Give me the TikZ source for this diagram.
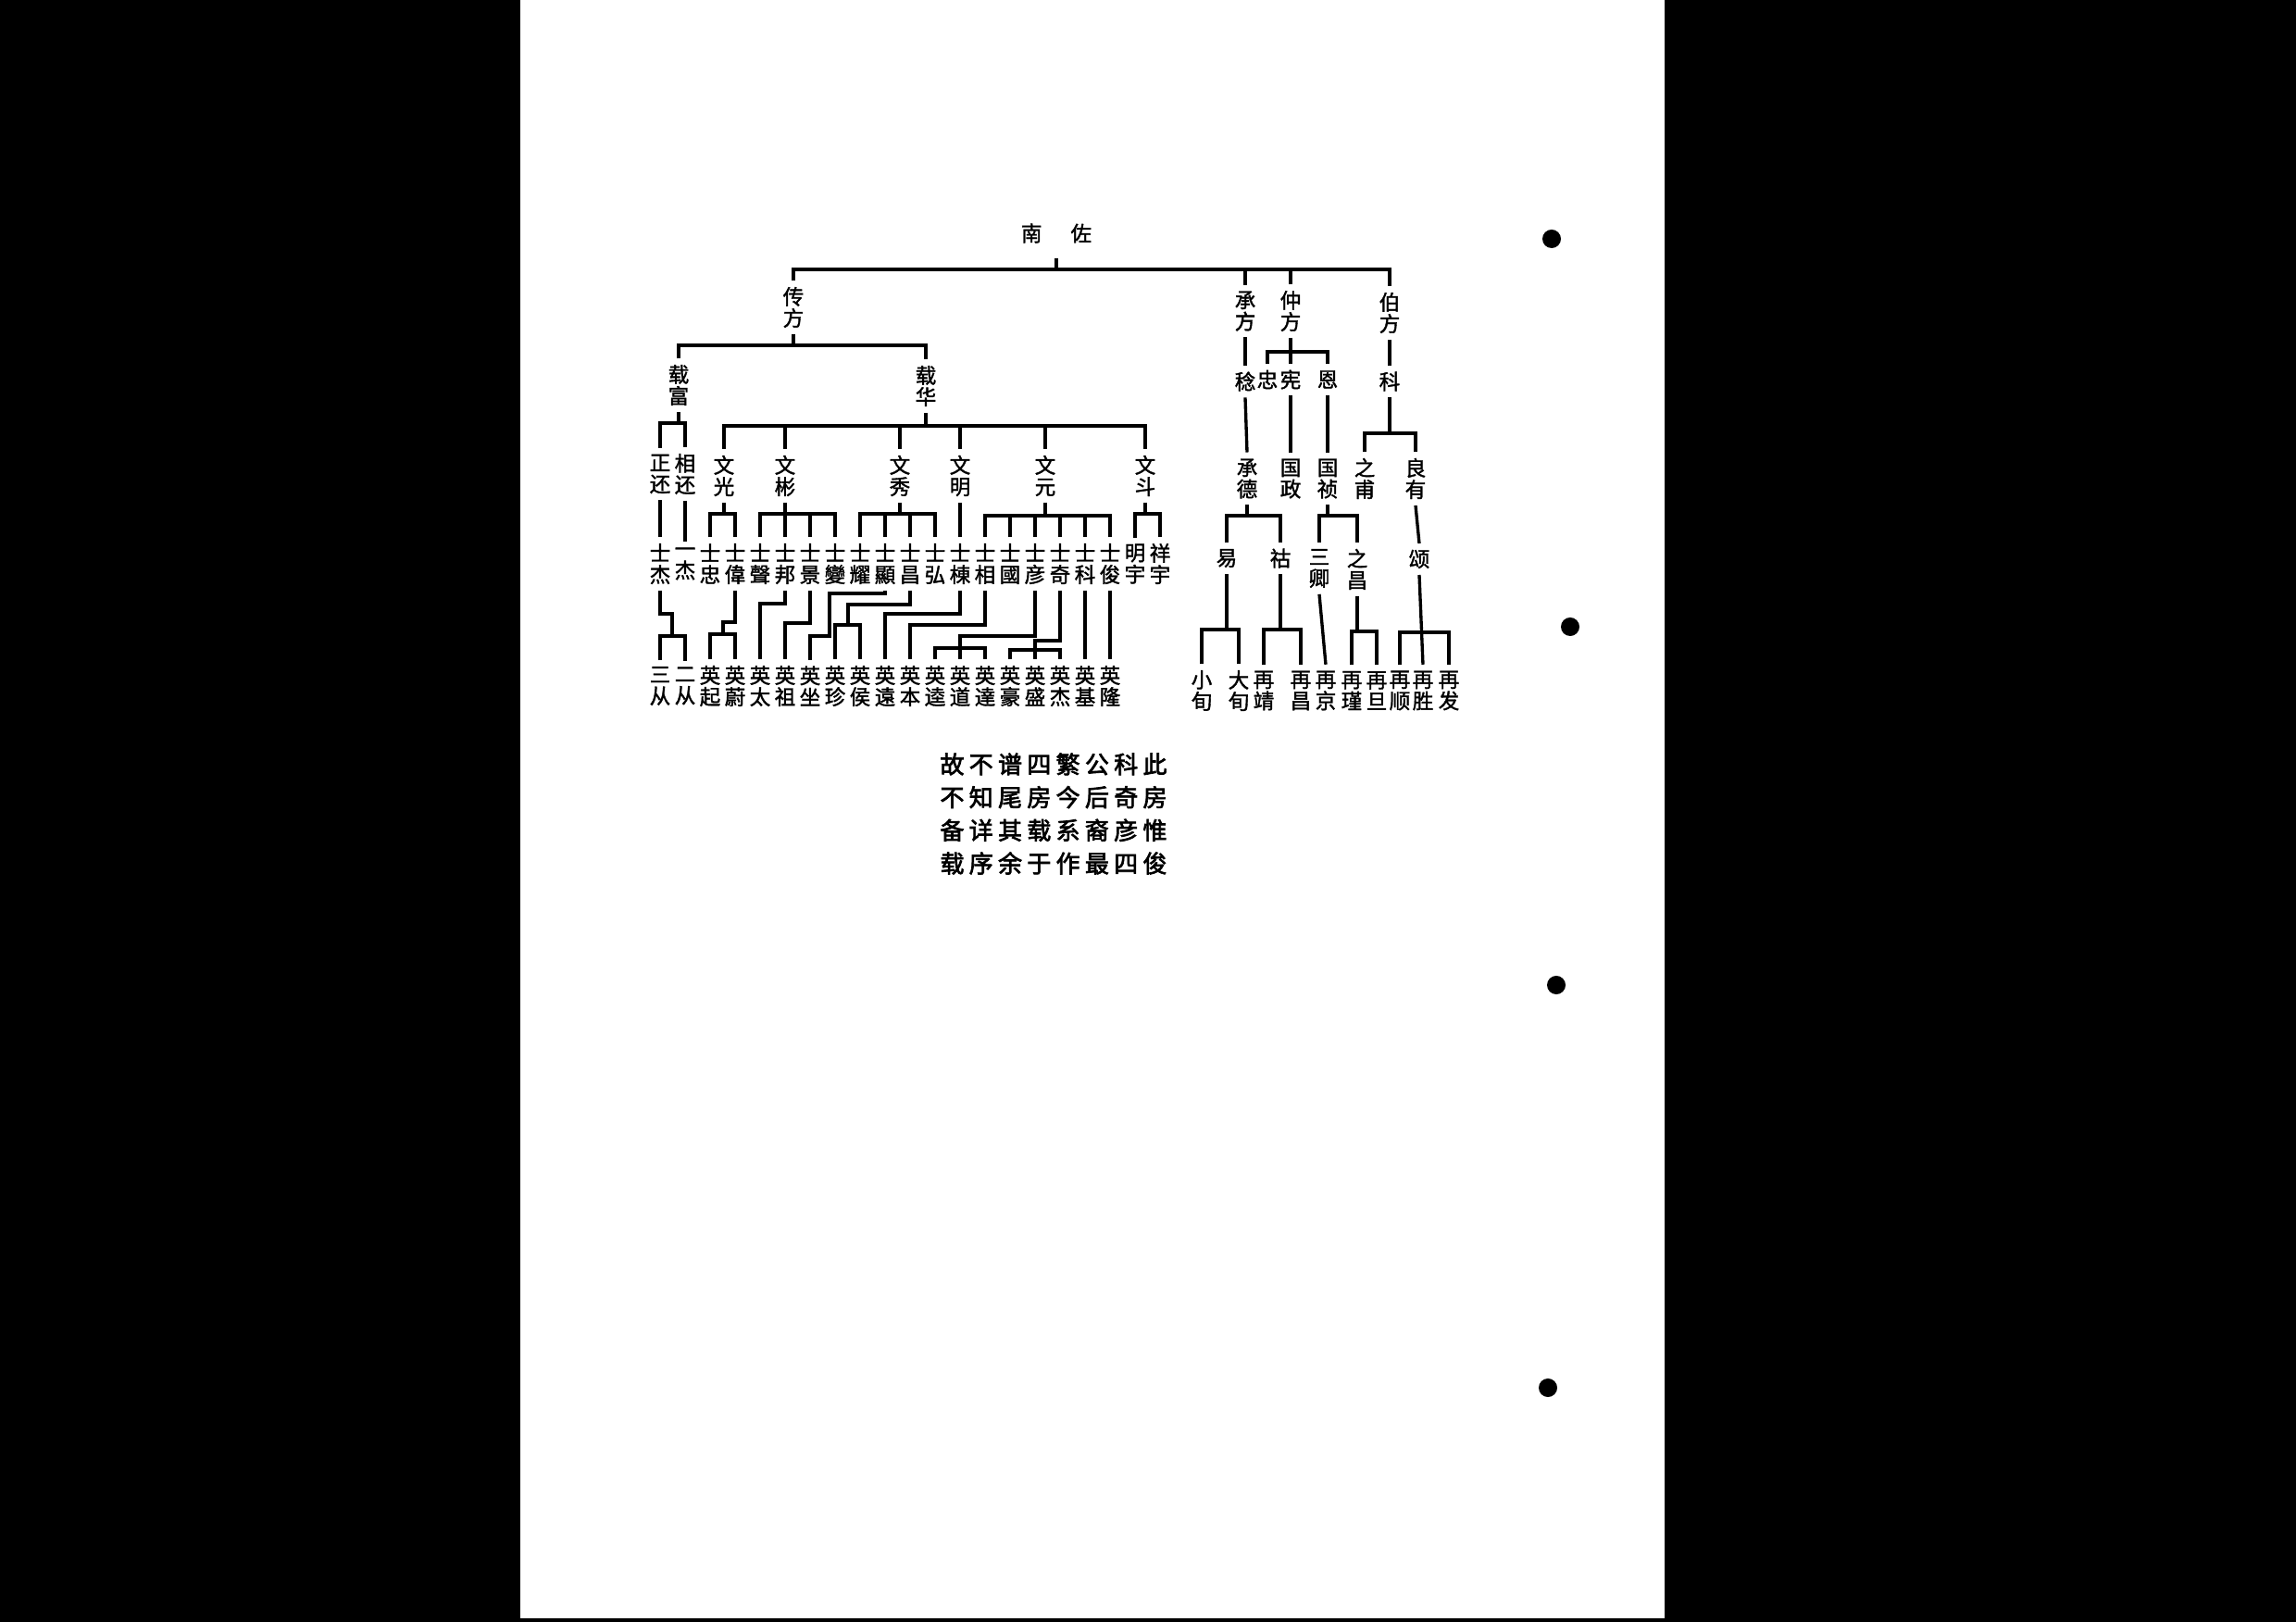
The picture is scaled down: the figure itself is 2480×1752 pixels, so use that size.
\documentclass[tikz,border=0pt]{standalone}
\usepackage{fontspec}
\newfontfamily\cjk[AutoFakeBold=1.6]{Noto Sans CJK SC}
\newfontfamily\cjkb[AutoFakeBold=2.6]{Noto Sans CJK SC}
\usetikzlibrary{calc}
\newcommand\gap{\hspace{1.5pt}}

\begin{document}
\begin{tikzpicture}[x=0.01cm,y=-0.01cm,line width=0.95pt,
  nm/.style={font=\cjk\bfseries\fontsize{6.4pt}{6.6pt}\selectfont,align=center,inner sep=1.5pt}]

    % Fond noir et page blanche
    \fill[black] (0,0) rectangle (2480,1752);
    \fill[white] (562,0) rectangle (1798,1748);

    % Trous de reliure
    \foreach \p in {(1676,258),(1696,677),(1681,1064),(1672,1499)}
      \fill[black] \p circle (0.1cm);

    % Ancêtre et première génération
    \node[nm] (nz) at (1141,252) {南\hspace{0.31cm}佐};
    \node[nm] (chuanf) at (857,332) {传\\方};
    \node[nm] (chengf) at (1345,336) {承\\方};
    \node[nm] (zhongf) at (1394,336) {仲\\方};
    \node[nm] (bof) at (1501,338) {伯\\方};

    \draw ([yshift=-0.1cm]nz.south) -- (nz.south |- 0,291);
    \draw (chuanf.north) |- (bof.north |- 0,291) -- (bof.north);
    \draw (chengf.north) -- (chengf.north |- 0,291);
    \draw (zhongf.north) -- (zhongf.north |- 0,291);

    % Deuxième génération
    \node[nm] (zaif) at (733,416) {载\\富};
    \node[nm] (zaih) at (1000,417) {载\\华};
    \node[nm] (ren) at (1345,412) {稔};
    \node[nm] (zhong) at (1369,410) {忠};
    \node[nm] (xian) at (1394,410) {宪};
    \node[nm] (en) at (1434,410) {恩};
    \node[nm] (ke) at (1501,412) {科};

    \draw (chuanf.south) -- (chuanf.south |- 0,373);
    \draw (zaif.north) |- (zaih.north |- 0,373) -- (zaih.north);
    \draw (chengf.south) -- (ren.north);
    \draw (zhongf.south) -- (xian.north);
    \draw (zhong.north) |- (en.north |- 0,380) -- (en.north);
    \draw (bof.south) -- (ke.north);

    % Troisième génération
    \node[nm] (zhengh) at (713,512) {正\\还};
    \node[nm] (xiangh) at (740,512) {相\\还};
    \node[nm] (wguang) at (782,514) {文\\光};
    \node[nm] (wbin) at (848,514) {文\\彬};
    \node[nm] (wxiu) at (972,514) {文\\秀};
    \node[nm] (wming) at (1037,514) {文\\明};
    \node[nm] (wyuan) at (1129,514) {文\\元};
    \node[nm] (wdou) at (1237,514) {文\\斗};
    \node[nm] (chengd) at (1347,517) {承\\德};
    \node[nm] (guozh) at (1394,517) {国\\政};
    \node[nm] (guozn) at (1434,517) {国\\祯};
    \node[nm] (zhifu) at (1474,517) {之\\甫};
    \node[nm] (liangy) at (1529,517) {良\\有};

    \draw (zaif.south) -- (zaif.south |- 0,457);
    \draw (zhengh.north) |- (xiangh.north |- 0,457) -- (xiangh.north);
    \draw (zaih.south) -- (zaih.south |- 0,460);
    \draw (wguang.north) |- (wdou.north |- 0,460) -- (wdou.north);
    \foreach \n in {wbin,wxiu,wming,wyuan}
      \draw (\n.north) -- (\n.north |- 0,460);
    \draw (ren.south) -- (chengd.north);
    \draw (xian.south) -- (guozh.north);
    \draw (en.south) -- (guozn.north);
    \draw (ke.south) -- (ke.south |- 0,468);
    \draw (zhifu.north) |- (liangy.north |- 0,468) -- (liangy.north);

    % Quatrième génération (branche de gauche)
    \foreach \t [count=\i from 0] in {士\\杰,一\\杰,士\\忠,士\\偉,士\\聲,士\\邦,士\\景,
        士\\變,士\\耀,士\\顯,士\\昌,士\\弘,士\\棟,士\\相,士\\國,士\\彦,士\\奇,士\\科,
        士\\俊,明\\宇,祥\\宇}
      \node[nm] (s\i) at ({713+27*\i},609) {\t};

    \draw (zhengh.south) -- (s0.north);
    \draw (xiangh.south) -- (s1.north);
    \draw (wguang.south) -- (wguang.south |- 0,555);
    \draw (s2.north) |- (s3.north |- 0,555) -- (s3.north);
    \draw (wbin.south) -- (wbin.south |- 0,555);
    \draw (s4.north) |- (s7.north |- 0,555) -- (s7.north);
    \draw (wxiu.south) -- (wxiu.south |- 0,555);
    \draw (s8.north) |- (s11.north |- 0,555) -- (s11.north);
    \foreach \i in {5,6,9,10}
      \draw (s\i.north) -- (s\i.north |- 0,555);
    \draw (wming.south) -- (s12.north);
    \draw (wyuan.south) -- (wyuan.south |- 0,557);
    \draw (s13.north) |- (s18.north |- 0,557) -- (s18.north);
    \foreach \i in {14,...,17}
      \draw (s\i.north) -- (s\i.north |- 0,557);
    \draw (wdou.south) -- (wdou.south |- 0,555);
    \draw (s19.north) |- (s20.north |- 0,555) -- (s20.north);

    % Quatrième génération (branche de droite)
    \node[nm] (yi) at (1325,603) {易};
    \node[nm] (hu) at (1383,603) {祜};
    \node[nm] (sanq) at (1425,614) {三\\卿};
    \node[nm] (zhich) at (1466,615) {之\\昌};
    \node[nm] (song) at (1533,604) {颂};

    \draw (chengd.south) -- (chengd.south |- 0,557);
    \draw (yi.north) |- (hu.north |- 0,557) -- (hu.north);
    \draw (guozn.south) -- (guozn.south |- 0,557);
    \draw (sanq.north) |- (zhich.north |- 0,557) -- (zhich.north);
    \draw (liangy.south) -- (song.north);

    % Cinquième génération (branche de gauche)
    \foreach \t [count=\i from 0] in {三\\从,二\\从,英\\起,英\\蔚,英\\太,英\\祖,英\\坐,
        英\\珍,英\\侯,英\\遠,英\\本,英\\逵,英\\道,英\\達,英\\豪,英\\盛,英\\杰,英\\基,英\\隆}
      \node[nm] (e\i) at ({713+27*\i},741) {\t};

    \draw (s0.south) |- (726,663) -- (726,687);
    \draw (e0.north) |- (e1.north |- 0,687) -- (e1.north);
    \draw (s3.south) |- (781,672) -- (781,685);
    \draw (e2.north) |- (e3.north |- 0,685) -- (e3.north);
    \draw (s5.south) |- (e4.north |- 0,652) -- (e4.north);
    \draw (s6.south) |- (e5.north |- 0,673) -- (e5.north);
    \draw (s9.south) |- (896,641) |- (e6.north |- 0,687) -- (e6.north);
    \draw (s10.south) |- (916,653) -- (916,675);
    \draw (e7.north) |- (e8.north |- 0,675) -- (e8.north);
    \draw (s12.south) |- (e9.north |- 0,663) -- (e9.north);
    \draw (s13.south) |- (e10.north |- 0,675) -- (e10.north);
    \draw (s15.south) |- (e12.north |- 0,687) -- (e12.north);
    \draw (e11.north) |- (e13.north |- 0,700) -- (e13.north);
    \draw (s16.south) |- (e15.north |- 0,692) -- (e15.north);
    \draw (e14.north) |- (e16.north |- 0,702) -- (e16.north);
    \draw (s17.south) -- (e17.north);
    \draw (s18.south) -- (e18.north);

    % Cinquième génération (branche de droite)
    \node[nm] (xiaox) at (1298,746) {小\\旬};
    \node[nm] (daxun) at (1338,746) {大\\旬};
    \node[nm] (zjing) at (1365,746) {再\\靖};
    \node[nm] (zchang) at (1405,746) {再\\昌};
    \node[nm] (zjng) at (1432,746) {再\\京};
    \node[nm] (zjin) at (1460,746) {再\\瑾};
    \node[nm] (zdan) at (1487,746) {再\\旦};
    \node[nm] (zshun) at (1512,746) {再\\顺};
    \node[nm] (zsheng) at (1537,746) {再\\胜};
    \node[nm] (zfa) at (1565,746) {再\\发};

    \draw (yi.south) -- (yi.south |- 0,680);
    \draw (xiaox.north) |- (daxun.north |- 0,680) -- (daxun.north);
    \draw (hu.south) -- (hu.south |- 0,680);
    \draw (zjing.north) |- (zchang.north |- 0,680) -- (zchang.north);
    \draw (sanq.south) -- (zjng.north);
    \draw (zhich.south) -- (zhich.south |- 0,682);
    \draw (zjin.north) |- (zdan.north |- 0,682) -- (zdan.north);
    \draw (song.south) -- (zsheng.north);
    \draw (zshun.north) |- (zfa.north |- 0,683) -- (zfa.north);

    % Note sous le tableau
    \node[font=\cjkb\bfseries\fontsize{7.4pt}{10.15pt}\selectfont,align=center,inner sep=0] (note) at (1138,879)
      {故\gap{}不\gap{}谱\gap{}四\gap{}繁\gap{}公\gap{}科\gap{}此\\
       不\gap{}知\gap{}尾\gap{}房\gap{}今\gap{}后\gap{}奇\gap{}房\\
       备\gap{}详\gap{}其\gap{}载\gap{}系\gap{}裔\gap{}彦\gap{}惟\\
       载\gap{}序\gap{}余\gap{}于\gap{}作\gap{}最\gap{}四\gap{}俊};
  \end{tikzpicture}
\end{document}
